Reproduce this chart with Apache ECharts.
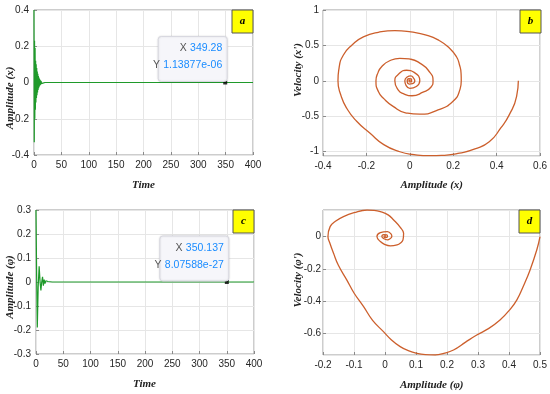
<!DOCTYPE html>
<html>
<head>
<meta charset="utf-8">
<script src="https://cdn.jsdelivr.net/npm/echarts@6/dist/echarts.min.js"></script>
<style>
html,body{margin:0;padding:0;background:#fff;}
#c{width:550px;height:394px;}
</style>
</head>
<body>
<div id="c"></div>
<script>
// ---- Data ----
// Panel a: Amplitude (x) vs Time
const timeA = [0,0.5,1.0,1.5,2.0,2.5,3.0,3.5,4.0,4.5,5.0,5.5,6.0,6.5,7.0,7.5,8.0,8.5,9.0,9.5,10.0,10.5,11.0,11.5,12.0,12.5,13.0,13.5,14.0,14.5,15.0,15.5,16.0,17.0,18.0,20.0,400];
const ampA  = [0.40,-0.33,0.23,-0.20,0.19,-0.15,0.12,-0.11,0.10,-0.085,0.08,-0.07,0.06,-0.055,0.048,-0.042,0.036,-0.032,0.028,-0.024,0.02,-0.018,0.015,-0.013,0.011,-0.009,0.008,-0.006,0.005,-0.004,0.003,-0.002,0.0015,-0.001,0.0005,0,0];
const tipA = [349.28, 1.13877e-06];
const tipALabels = ['349.28', '1.13877e-06'];

// Panel b: Velocity (x') vs Amplitude (x)
const phaseBX = [0.500,0.492,0.458,0.420,0.366,0.300,0.229,0.160,0.092,0.020,-0.046,-0.120,-0.183,-0.245,-0.290,-0.318,-0.331,-0.326,-0.306,-0.265,-0.214,-0.145,-0.069,0.005,0.076,0.135,0.183,0.215,0.229,0.236,0.237,0.230,0.198,0.130,0.046,-0.020,-0.077,-0.120,-0.145,-0.156,-0.146,-0.130,-0.095,-0.046,0.005,0.046,0.085,0.107,0.097,0.061,0.010,-0.030,-0.053,-0.069,-0.050,-0.015,0.020,0.046,0.030,0.000,-0.018,-0.023,-0.012,0.005,0.018,0.023,0.012,-0.003,-0.012,-0.004,0.008,0.008,-0.002,-0.004,0.002,0.000];
const phaseBY = [0.00,-0.22,-0.48,-0.66,-0.86,-0.96,-1.02,-1.05,-1.056,-1.04,-1.00,-0.90,-0.74,-0.57,-0.39,-0.20,0.00,0.18,0.365,0.51,0.62,0.685,0.708,0.69,0.647,0.57,0.46,0.34,0.224,0.11,0.00,-0.13,-0.29,-0.41,-0.47,-0.45,-0.36,-0.25,-0.15,0.00,0.12,0.20,0.28,0.318,0.305,0.25,0.15,0.00,-0.09,-0.16,-0.21,-0.18,-0.13,0.00,0.10,0.15,0.12,0.00,-0.08,-0.105,-0.06,0.00,0.055,0.07,0.035,0.00,-0.04,-0.045,0.00,0.03,0.02,-0.015,-0.015,0.008,0.008,0.00];

// Panel c: Amplitude (phi) vs Time
const timeC = [0,1.2,2.4,4.0,5.8,7.5,9.0,10.5,12.0,13.5,15.0,16.5,18.0,20.0,22.0,25.0,30.0,400];
const ampC  = [0.30,0.02,-0.19,-0.02,0.065,0.0,-0.035,0.0,0.022,-0.015,0.010,-0.007,0.005,-0.003,0.002,-0.001,0,0];
const tipC = [350.137, 8.07588e-27];
const tipCLabels = ['350.137', '8.07588e-27'];

// Panel d: Velocity (phi') vs Amplitude (phi)
const phaseDX = [0.500,0.490,0.468,0.448,0.425,0.400,0.371,0.335,0.296,0.260,0.221,0.190,0.162,0.130,0.103,0.075,0.049,0.020,-0.005,-0.040,-0.069,-0.100,-0.123,-0.150,-0.166,-0.178,-0.184,-0.177,-0.160,-0.134,-0.100,-0.058,-0.035,-0.015,0.010,0.028,0.048,0.060,0.058,0.050,0.039,0.017,0.000,-0.015,-0.026,-0.015,0.008,0.020,0.022,0.015,0.008,-0.005,-0.010,-0.004,0.006,0.008,0.003,-0.003,-0.002,0.002,0.000];
const phaseDY = [0.000,-0.080,-0.207,-0.300,-0.394,-0.460,-0.518,-0.570,-0.611,-0.655,-0.704,-0.725,-0.735,-0.733,-0.725,-0.708,-0.683,-0.640,-0.590,-0.520,-0.435,-0.350,-0.270,-0.180,-0.104,-0.040,0.000,0.062,0.095,0.124,0.148,0.165,0.163,0.155,0.135,0.103,0.060,0.020,-0.021,-0.040,-0.052,-0.058,-0.050,-0.031,0.000,0.025,0.031,0.015,0.000,-0.015,-0.020,-0.012,0.000,0.012,0.010,0.000,-0.007,-0.004,0.004,0.003,0.000];

const xTicksTime = [0,50,100,150,200,250,300,350,400];

// ---- Build ----
const zip = (a, b) => a.map((v, i) => [v, b[i]]);
const green = '#1f9a2a';
const orange = '#cc5f2c';
const lblStyle = {color:'#262626', fontSize:10, fontFamily:'Liberation Sans, Arial, sans-serif', margin:5};
const split = {show:true, lineStyle:{color:'#e6e6e6', width:1}};
const tick = {show:true, inside:true, length:3, lineStyle:{color:'#8a8a8a'}};

const grids = [
  {left:34, top:10, width:219, height:145},
  {left:323, top:10, width:218, height:146},
  {left:36, top:210, width:218, height:144},
  {left:323, top:210, width:217, height:145}
];
grids.forEach(g => { g.show = true; g.borderColor = '#9a9a9a'; g.borderWidth = 1; g.backgroundColor = '#fff'; g.containLabel = false; });

function xa(gi, min, max, interval) {
  const o = {type:'value', gridIndex:gi, min:min, max:max, axisLine:{show:false, onZero:false}, axisTick:tick, splitLine:split, axisLabel:lblStyle};
  if (interval) o.interval = interval;
  return o;
}
function ya(gi, min, max, interval, hideEdges, margin) {
  const o = {type:'value', gridIndex:gi, min:min, max:max, axisLine:{show:false, onZero:false}, axisTick:tick, splitLine:split,
    axisLabel:Object.assign({}, lblStyle, {showMinLabel: !hideEdges, showMaxLabel: true, margin: margin || 5})};
  if (interval) o.interval = interval;
  return o;
}

const yD = ya(3, -0.735, 0.165, null, true, 2);
yD.splitNumber = 4;
yD.axisLabel.showMaxLabel = false;
const yB = ya(1, -1.06, 1, null, true, 4);
yB.splitNumber = 4;

const option = {
  animation:false,
  backgroundColor:'#fff',
  grid: grids,
  xAxis: [
    xa(0, xTicksTime[0], xTicksTime[xTicksTime.length-1], 50),
    xa(1, -0.4, 0.6, 0.2),
    xa(2, xTicksTime[0], xTicksTime[xTicksTime.length-1], 50),
    xa(3, -0.2, 0.5, 0.1)
  ],
  yAxis: [
    ya(0, -0.4, 0.4, 0.2),
    yB,
    ya(2, -0.3, 0.3, 0.1),
    yD
  ],
  series: [
    {type:'line', xAxisIndex:0, yAxisIndex:0, data:zip(timeA, ampA), showSymbol:false, lineStyle:{color:green, width:1.2}, z:3},
    {type:'line', xAxisIndex:1, yAxisIndex:1, data:zip(phaseBX, phaseBY), showSymbol:false, smooth:0.55, lineStyle:{color:orange, width:1.3}, z:3},
    {type:'line', xAxisIndex:2, yAxisIndex:2, data:zip(timeC, ampC), showSymbol:false, lineStyle:{color:green, width:1.2}, z:3},
    {type:'line', xAxisIndex:3, yAxisIndex:3, data:zip(phaseDX, phaseDY), showSymbol:false, smooth:0.45, lineStyle:{color:orange, width:1.3}, z:3},
    {type:'scatter', xAxisIndex:0, yAxisIndex:0, data:[tipA], symbol:'rect', symbolSize:4, itemStyle:{color:'#000'}, z:5},
    {type:'scatter', xAxisIndex:2, yAxisIndex:2, data:[tipC], symbol:'rect', symbolSize:4, itemStyle:{color:'#000'}, z:5}
  ]
};

const chart = echarts.init(document.getElementById('c'), null, {renderer:'canvas'});
chart.setOption(option);

// ---- Annotations (data tips, panel letters, axis titles) ----
const g = [];
const titleFont = {fontFamily:'Liberation Serif, Times New Roman, serif', fontStyle:'italic', fontWeight:'bold', fontSize:11, fill:'#222'};

function dataTip(gi, pt, labels) {
  const p = chart.convertToPixel({gridIndex:gi}, pt);
  const w = 69, h = 45;
  const right = p[0] + 2, bottom = p[1] - 1;
  g.push({type:'rect', shape:{x:right - w, y:bottom - h, width:w, height:h, r:3},
    style:{fill:'#f6f6fa', stroke:'#d8d8e0', lineWidth:1, shadowBlur:2, shadowColor:'rgba(0,0,0,0.12)'}, z:10});
  const rich = {l:{fill:'#555', fontSize:10.5, fontFamily:'Liberation Sans, Arial, sans-serif'},
                v:{fill:'#1a8cff', fontSize:10.5, fontFamily:'Liberation Sans, Arial, sans-serif'}};
  g.push({type:'text', x:right - 5, y:bottom - h + 12, z:11,
    style:{text:'{l|X} {v|' + labels[0] + '}', rich:rich, align:'right', verticalAlign:'middle'}});
  g.push({type:'text', x:right - 5, y:bottom - h + 29, z:11,
    style:{text:'{l|Y} {v|' + labels[1] + '}', rich:rich, align:'right', verticalAlign:'middle'}});
}
dataTip(0, tipA, tipALabels);
dataTip(2, tipC, tipCLabels);

const letters = ['a','b','c','d'];
grids.forEach((gr, i) => {
  const r = gr.left + gr.width, t = gr.top;
  g.push({type:'rect', shape:{x:r - 21, y:t, width:21, height:23}, style:{fill:'#ffff00', stroke:'#555', lineWidth:1}, z:12});
  g.push({type:'text', x:r - 10.5, y:t + 11.5, z:13,
    style:Object.assign({}, titleFont, {text:letters[i], align:'center', verticalAlign:'middle', fontSize:11, fill:'#000'})});
});

// x axis titles
const xTitles = [['Time',143.5,185],['Amplitude (x)',431.7,185],['Time',144.5,384.5],['Amplitude (φ)',431.7,385]];
xTitles.forEach(t => g.push({type:'text', x:t[1], y:t[2], z:13, style:Object.assign({}, titleFont, {text:t[0], align:'center', verticalAlign:'middle'})}));
// y axis titles (rotated)
const yTitles = [['Amplitude (x)',10.5,98],["Velocity (x')",298.5,70],['Amplitude (φ)',10.5,287],["Velocity (φ')",298,280]];
yTitles.forEach(t => g.push({type:'text', x:t[1], y:t[2], rotation:Math.PI/2, z:13, style:Object.assign({}, titleFont, {text:t[0], align:'center', verticalAlign:'middle'})}));

chart.setOption({graphic:g});
</script>
</body>
</html>
